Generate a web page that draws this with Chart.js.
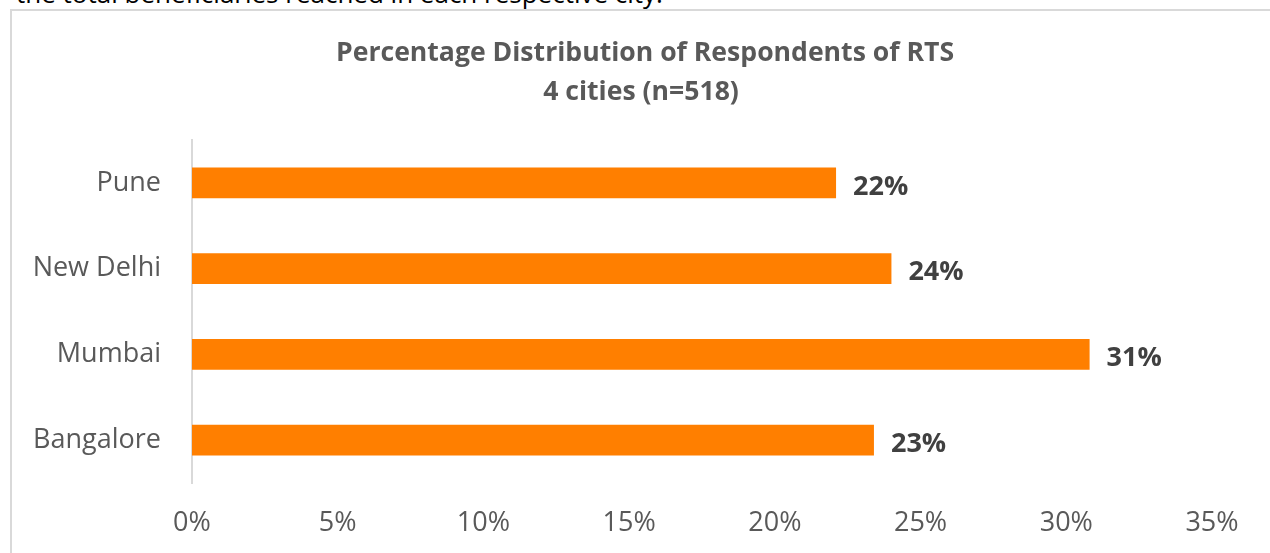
<!DOCTYPE html>
<html>
<head>
<meta charset="utf-8">
<script src="https://cdn.jsdelivr.net/npm/chart.js@4"></script>
<style>
    html, body { margin: 0; padding: 0; background: #fff; }
    #page { position: relative; width: 1270px; height: 553px; overflow: hidden; }
    #caption {
        position: absolute; left: 16px; top: -25px;
        font-family: "Open Sans", sans-serif; font-size: 26px; color: #000;
        white-space: nowrap;
    }
    #frame {
        position: absolute; left: 10px; top: 9px; width: 1300px; height: 600px;
        border: 2px solid #d9d9d9; box-sizing: border-box;
    }
    #holder { position: absolute; left: 0; top: 0; width: 1270px; height: 553px; }
</style>
</head>
<body>
<div id="page">
    <div id="caption">the total beneficiaries reached in each respective city.</div>
    <div id="frame"></div>
    <div id="holder"><canvas id="rtsChart"></canvas></div>
</div>
<script>
let cities = ["Pune", "New Delhi", "Mumbai", "Bangalore"];
let shares = [22.1, 24.0, 30.8, 23.4];
let shareLabels = ["22%", "24%", "31%", "23%"];
let titleLines = ["Percentage Distribution of Respondents of RTS", "4 cities (n=518)"];

// bold value next to each bar end
let barLabels = {
    id: 'barLabels',
    afterDatasetsDraw(chart) {
        let ctx = chart.ctx;
        let meta = chart.getDatasetMeta(0);
        ctx.save();
        ctx.font = 'bold 27px "Open Sans"';
        ctx.fillStyle = '#404040';
        ctx.textBaseline = 'middle';
        ctx.textAlign = 'left';
        meta.data.forEach((bar, i) => {
            ctx.fillText(shareLabels[i], bar.x + 17, bar.y + 4);
        });
        ctx.restore();
    }
};

// title is centred on the whole chart box, not on the canvas minus padding
let boxTitle = {
    id: 'boxTitle',
    afterDraw(chart) {
        let ctx = chart.ctx;
        ctx.save();
        ctx.font = 'bold 26.6px "Open Sans"';
        ctx.fillStyle = '#595959';
        ctx.textAlign = 'center';
        ctx.textBaseline = 'middle';
        ctx.fillText(titleLines[0], 645, 53);
        ctx.fillText(titleLines[1], 641, 92);
        ctx.restore();
    }
};

function drawChart() {
    let ctx = document.getElementById("rtsChart").getContext("2d");

    let chart = new Chart(ctx, {
        type: 'bar',
        data: {
            labels: cities,
            datasets: [{
                data: shares,
                backgroundColor: '#ff7f00',
                borderWidth: 0,
                categoryPercentage: 1,
                barPercentage: 0.36
            }]
        },
        options: {
            indexAxis: 'y',
            responsive: true,
            maintainAspectRatio: false,
            animation: false,
            layout: { padding: { left: 0, right: 58, top: 140, bottom: 0 } },
            plugins: {
                legend: { display: false },
                tooltip: { enabled: false },
                title: { display: false }
            },
            scales: {
                x: {
                    min: 0,
                    max: 35,
                    ticks: {
                        stepSize: 5,
                        color: '#595959',
                        font: { family: 'Open Sans', size: 27 },
                        padding: 24,
                        callback: (v) => v + '%'
                    },
                    grid: { display: false, drawTicks: false },
                    border: { display: false },
                    afterFit: (scale) => { scale.height = 70; }
                },
                y: {
                    ticks: {
                        color: '#595959',
                        font: { family: 'Open Sans', size: 27 },
                        padding: 31
                    },
                    grid: { display: false, drawTicks: false },
                    border: { display: true, color: '#d9d9d9', width: 2 },
                    afterFit: (scale) => { scale.width = 192; }
                }
            }
        },
        plugins: [barLabels, boxTitle]
    });
}

drawChart();
</script>
</body>
</html>
